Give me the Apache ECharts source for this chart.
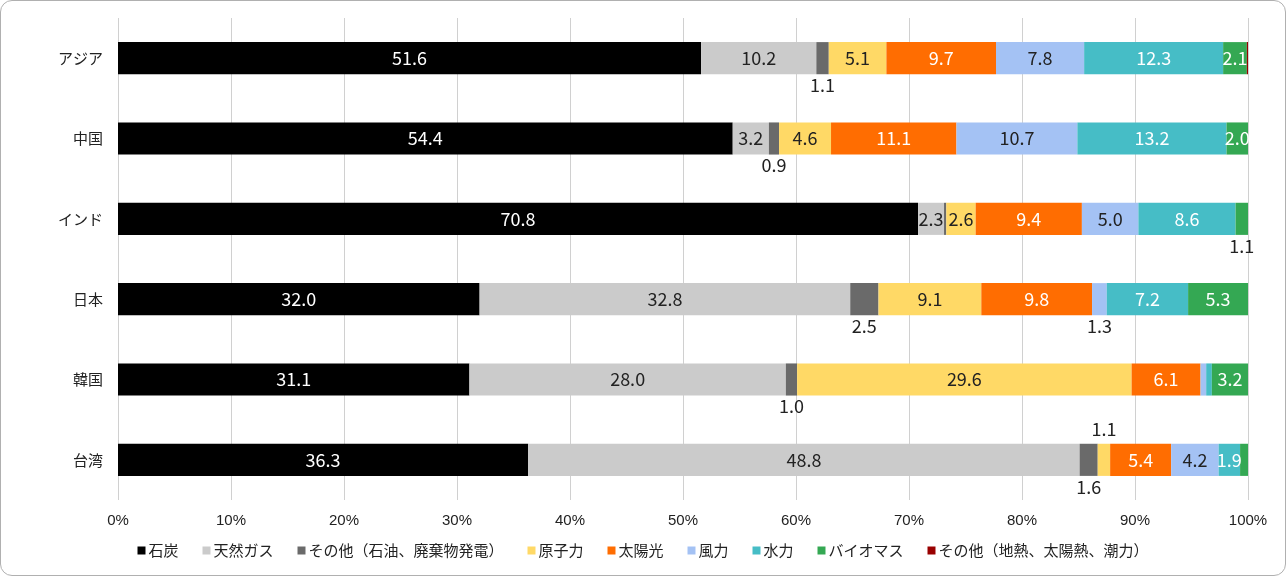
<!DOCTYPE html>
<html>
<head>
<meta charset="utf-8">
<script src="https://cdn.jsdelivr.net/npm/echarts@6/dist/echarts.min.js"></script>
<style>
  html, body { margin: 0; padding: 0; background: #fff; }
  #frame {
    position: absolute; left: 0; top: 0; width: 1286px; height: 576px;
    border: 1px solid #b0b0b0; border-radius: 12px; box-sizing: border-box;
  }
  #chart { position: absolute; left: 0; top: 0; width: 1286px; height: 576px; }
</style>
</head>
<body>
<div id="frame"></div>
<div id="chart"></div>
<script>
// 地域（上から順）
const regions = ['アジア', '中国', 'インド', '日本', '韓国', '台湾']

// 電源別構成比（%）
const coal     = [51.6, 54.4, 70.8, 32.0, 31.1, 36.3]
const gas      = [10.2,  3.2,  2.3, 32.8, 28.0, 48.8]
const oilOther = [ 1.1,  0.9,  0.2,  2.5,  1.0,  1.6]
const nuclear  = [ 5.1,  4.6,  2.6,  9.1, 29.6,  1.1]
const solar    = [ 9.7, 11.1,  9.4,  9.8,  6.1,  5.4]
const wind     = [ 7.8, 10.7,  5.0,  1.3,  0.5,  4.2]
const hydro    = [12.3, 13.2,  8.6,  7.2,  0.5,  1.9]
const biomass  = [ 2.1,  2.0,  1.1,  5.3,  3.2,  0.7]
const geoOther = [ 0.1,  0.0,  0.0,  0.0,  0.0,  0.0]

const axisTicks = [0, 10, 20, 30, 40, 50, 60, 70, 80, 90, 100]

const seriesDefs = [
    { name: '石炭', data: coal, color: '#000000', text: '#ffffff' },
    { name: '天然ガス', data: gas, color: '#cbcbcb', text: '#222222' },
    { name: 'その他（石油、廃棄物発電）', data: oilOther, color: '#6a6a6a', text: '#ffffff' },
    { name: '原子力', data: nuclear, color: '#ffd966', text: '#222222' },
    { name: '太陽光', data: solar, color: '#ff6d01', text: '#ffffff' },
    { name: '風力', data: wind, color: '#a4c2f4', text: '#222222' },
    { name: '水力', data: hydro, color: '#46bdc6', text: '#ffffff' },
    { name: 'バイオマス', data: biomass, color: '#34a853', text: '#ffffff' },
    { name: 'その他（地熱、太陽熱、潮力）', data: geoOther, color: '#990000', text: '#ffffff' }
]

// 細いセグメントのラベルは棒の外に出す（系列index-地域index）
const outside = {
    '2-0': 'bottom', '2-1': 'bottom', '7-2': 'bottom', '2-3': 'bottom',
    '5-3': 'bottom', '2-4': 'bottom', '2-5': 'bottom', '3-5': 'top'
}
const FONT = 'Noto Sans CJK JP'

const series = seriesDefs.map((s, si) => ({
    name: s.name,
    type: 'bar',
    stack: 'total',
    barWidth: '40%',
    itemStyle: { color: s.color },
    emphasis: { disabled: true },
    data: s.data.map((v, ri) => {
        const pos = outside[si + '-' + ri]
        let label
        if (pos) {
            label = { show: true, position: pos, distance: pos === 'top' ? 6 : 2, color: '#222', fontSize: 18, fontFamily: FONT, formatter: v.toFixed(1) }
        } else if (v >= 1.9) {
            label = { show: true, position: 'inside', color: s.text, fontSize: 18, fontFamily: FONT, formatter: v.toFixed(1) }
        } else {
            label = { show: false }
        }
        return { value: v, label: label }
    })
}))

const chart = echarts.init(document.getElementById('chart'))
chart.setOption({
    animation: false,
    textStyle: { fontFamily: FONT },
    grid: { left: 118, right: 38, top: 18, bottom: 76, containLabel: false },
    legend: {
        bottom: 13,
        left: 'center',
        itemWidth: 8,
        itemHeight: 8,
        itemGap: 24,
        icon: 'rect',
        textStyle: { fontSize: 15, color: '#222', fontFamily: FONT, padding: [0, 0, 0, -2] },
        data: seriesDefs.map(s => s.name)
    },
    xAxis: {
        type: 'value',
        min: axisTicks[0],
        max: axisTicks[axisTicks.length - 1],
        interval: 10,
        axisLine: { show: false },
        axisTick: { show: false },
        splitLine: { lineStyle: { color: '#d0d0d0', width: 1 } },
        axisLabel: { formatter: '{value}%', fontSize: 15, color: '#222', margin: 13, fontFamily: 'Liberation Sans' }
    },
    yAxis: {
        type: 'category',
        inverse: true,
        data: regions,
        axisLine: { show: false },
        axisTick: { show: false },
        axisLabel: { fontSize: 15, color: '#222', margin: 15, fontFamily: FONT }
    },
    series: series
})
</script>
</body>
</html>
